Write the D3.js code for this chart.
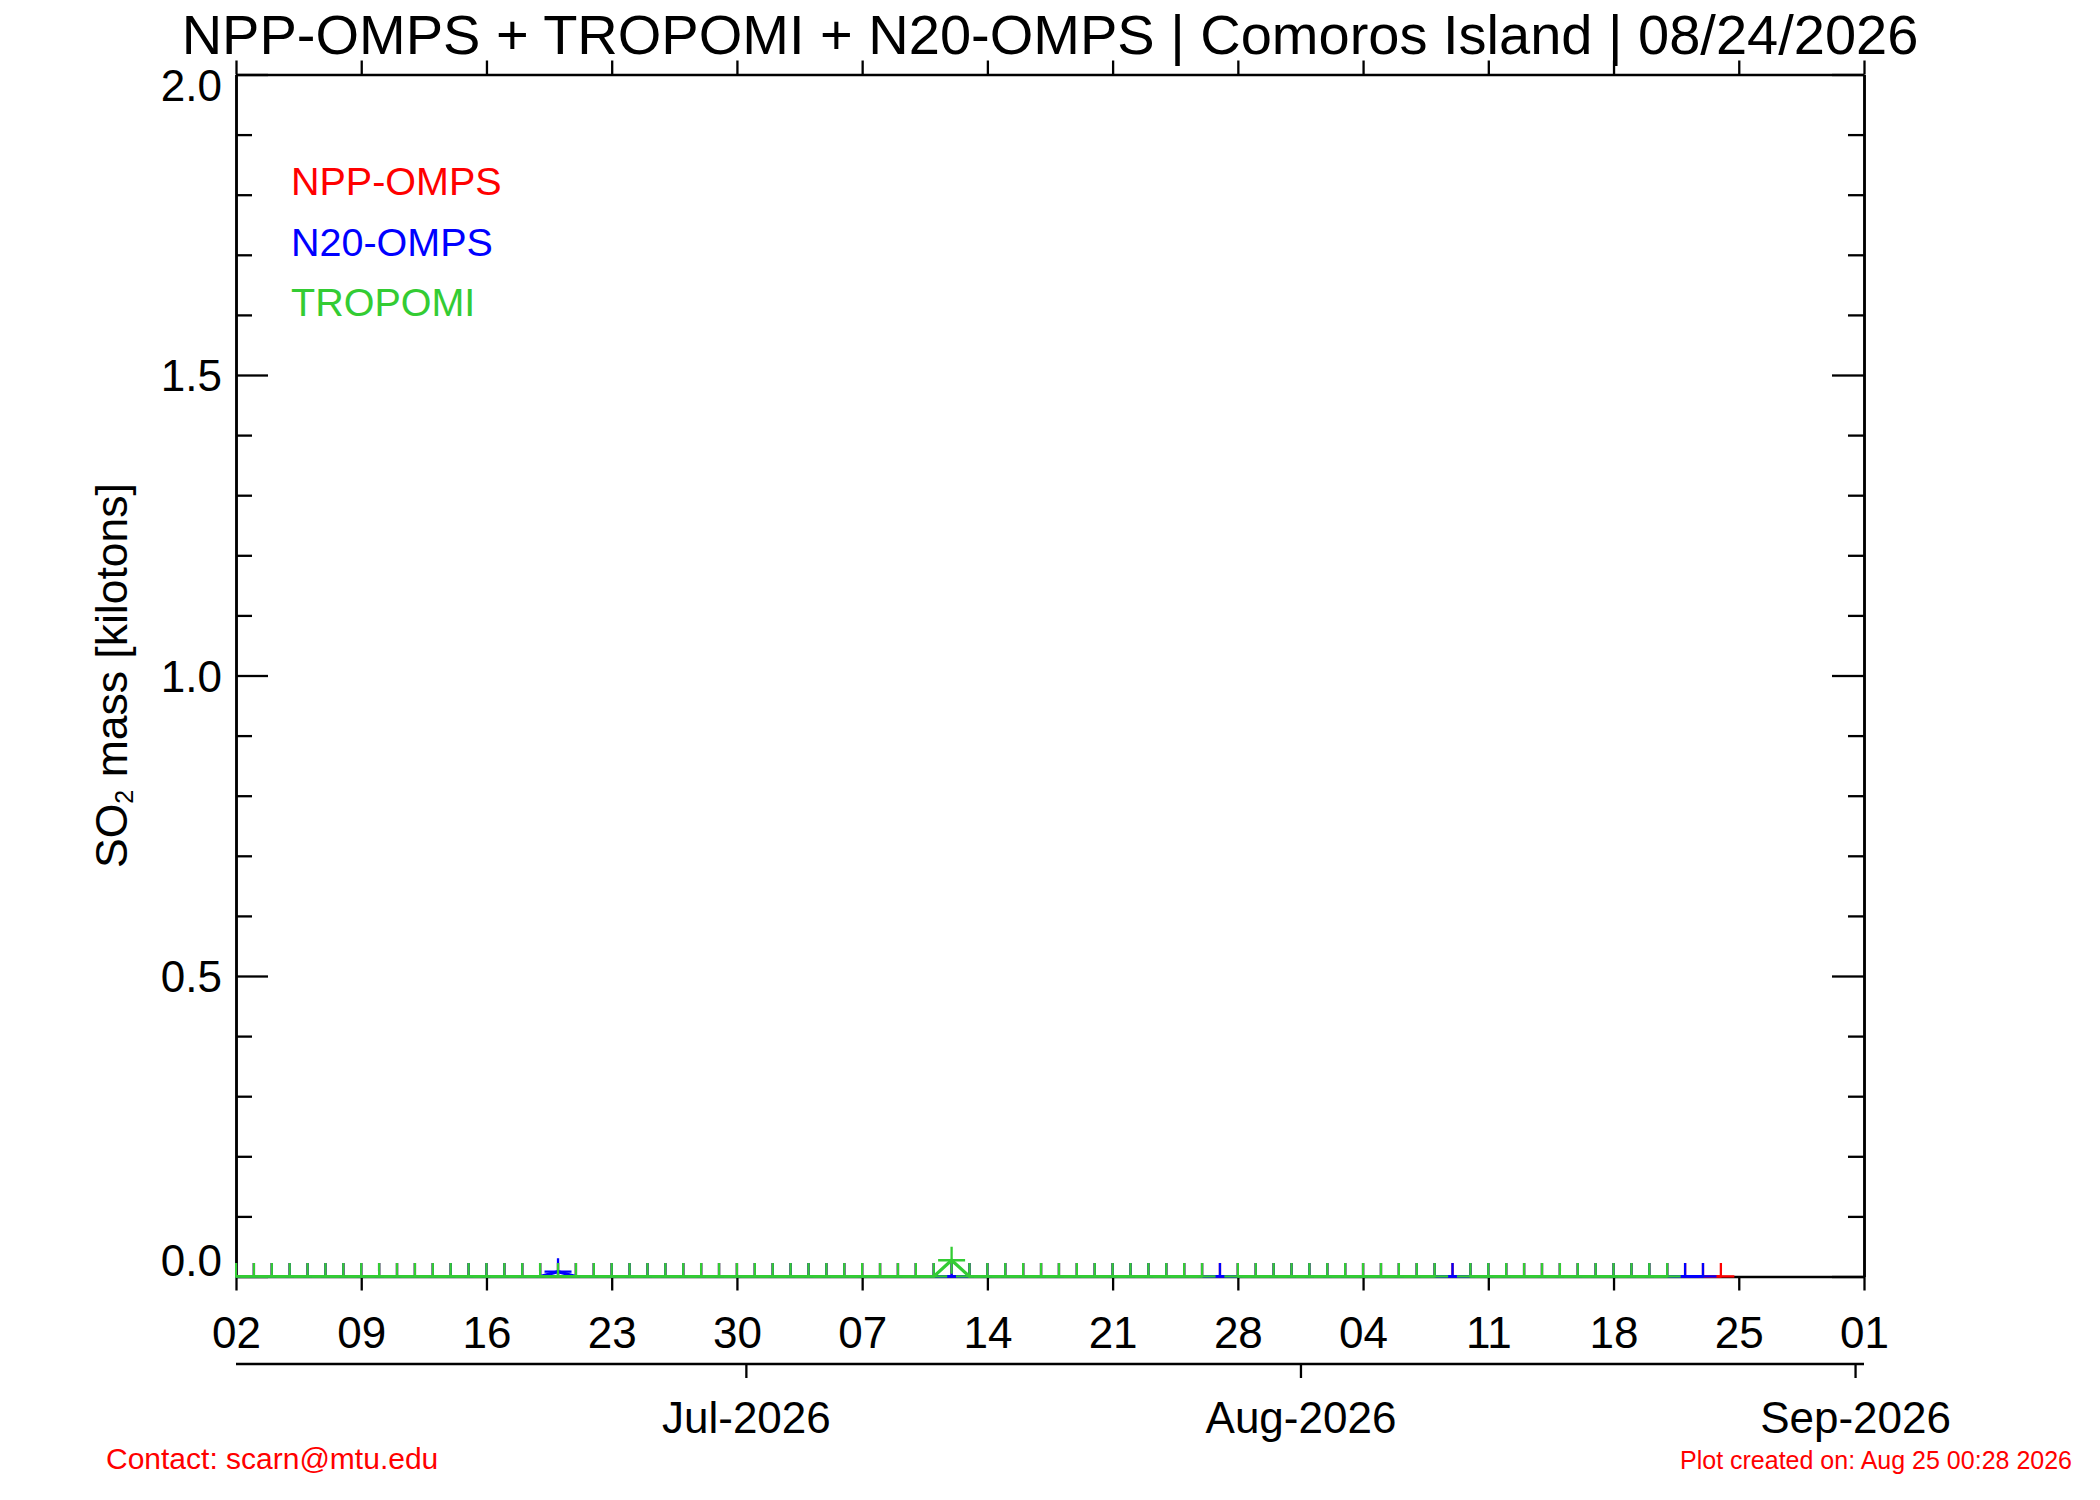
<!DOCTYPE html>
<html>
<head>
<meta charset="utf-8">
<script src="https://cdn.jsdelivr.net/npm/d3@7"></script>
<style>
  body { margin: 0; background: #fff; }
  svg text { font-family: "Liberation Sans", Arial, Helvetica, sans-serif; }
</style>
</head>
<body>
<svg id="chart" width="2100" height="1500"></svg>
<script>
// daily values, first day 2026-06-02, kilotons of SO2 (null = no overpass)
var nppStart = "2026-06-02";
var nppValues = [
  0, 0, 0, 0, 0, 0, 0, 0, 0, 0, 0, 0, 0, 0, 0, 0, 0, 0, 0, 0, 0, 0, 0, 0, 0, 0, 0, 0, 0, 0,
  0, 0, 0, 0, 0, 0, 0, 0, 0, 0, 0, 0, 0, 0, 0, 0, 0, 0, 0, 0, 0, 0, 0, 0, 0, 0, 0, 0, 0, 0,
  0, 0, 0, 0, 0, 0, 0, 0, 0, 0, 0, 0, 0, 0, 0, 0, 0, 0, 0, 0, 0, 0, 0, 0
];
var n20Start = "2026-06-02";
var n20Values = [
  0, 0, 0, 0, 0, 0, 0, 0, 0, 0, 0, 0, 0, 0, 0, 0, 0, 0, 0.008, 0, 0, 0, 0, 0, 0, 0, 0, 0, 0, 0,
  0, 0, 0, 0, 0, 0, 0, 0, 0, 0, 0, 0, 0, 0, 0, 0, 0, 0, 0, 0, 0, 0, 0, 0, 0, 0, 0, 0, 0, 0,
  0, 0, 0, 0, 0, 0, 0, 0, 0, 0, 0, 0, 0, 0, 0, 0, 0, 0, 0, 0, 0, 0, 0
];
var tropomiStart = "2026-06-02";
var tropomiValues = [
  0, 0, 0, 0, 0, 0, 0, 0, 0, 0, 0, 0, 0, 0, 0, 0, 0, 0, 0, 0, 0, 0, 0, 0, 0, 0, 0, 0, 0, 0,
  0, 0, 0, 0, 0, 0, 0, 0, 0, 0, 0.027, 0, 0, 0, 0, 0, 0, 0, 0, 0, 0, 0, 0, 0, 0, null, 0, 0, 0, 0,
  0, 0, 0, 0, 0, 0, 0, 0, null, 0, 0, 0, 0, 0, 0, 0, 0, 0, 0, 0, 0
];

var seriesNames = ["NPP-OMPS", "N20-OMPS", "TROPOMI"];
var seriesColors = ["#ff0000", "#0000ff", "#33cc33"];

var xDomain = ["2026-06-02", "2026-09-01"];
var dayTicks = ["2026-06-02", "2026-06-09", "2026-06-16", "2026-06-23", "2026-06-30",
                "2026-07-07", "2026-07-14", "2026-07-21", "2026-07-28", "2026-08-04",
                "2026-08-11", "2026-08-18", "2026-08-25", "2026-09-01"];
var monthTicks = ["2026-07-01", "2026-08-01", "2026-09-01"];
var monthLabels = ["Jul-2026", "Aug-2026", "Sep-2026"];
var yMajorTicks = [0, 0.5, 1.0, 1.5, 2.0];
var yMinorTicks = [0.1, 0.2, 0.3, 0.4, 0.6, 0.7, 0.8, 0.9, 1.1, 1.2, 1.3, 1.4, 1.6, 1.7, 1.8, 1.9];

var title = "NPP-OMPS + TROPOMI + N20-OMPS | Comoros Island | 08/24/2026";
var contact = "Contact: scarn@mtu.edu";
var created = "Plot created on: Aug 25 00:28 2026";

var parse = d3.utcParse("%Y-%m-%d");
var plotL = 236, plotR = 1864, plotT = 74.5, plotB = 1276.5;

var x = d3.scaleUtc().domain(xDomain.map(parse)).range([plotL, plotR]);
// month axis below sits half a day to the left
var xMonth = d3.scaleUtc()
    .domain(xDomain.map(function(d) { return d3.utcHour.offset(parse(d), 12); }))
    .range([plotL, plotR]);
var y = d3.scaleLinear().domain([0, 2]).range([plotB, plotT]);

var svg = d3.select("#chart");
svg.append("rect").attr("width", 2100).attr("height", 1500).attr("fill", "#fff");

function styleAxis(g, w) {
    g.selectAll(".domain").attr("stroke", "#000").attr("stroke-width", w);
    g.selectAll(".tick line").attr("stroke", "#000").attr("stroke-width", 2.3);
    g.selectAll(".tick text").attr("fill", "#000").attr("font-family", "Liberation Sans, Arial, sans-serif");
}

// bottom day axis
var gx = svg.append("g").attr("transform", "translate(0," + plotB + ")")
    .call(d3.axisBottom(x).tickValues(dayTicks.map(parse))
        .tickFormat(d3.utcFormat("%d")).tickSizeInner(14).tickSizeOuter(0).tickPadding(26));
styleAxis(gx, 2.5);
gx.selectAll(".tick text").attr("font-size", 44);

// top axis
var gt = svg.append("g").attr("transform", "translate(0," + plotT + ")")
    .call(d3.axisTop(x).tickValues(dayTicks.map(parse)).tickFormat("").tickSizeInner(14).tickSizeOuter(0));
styleAxis(gt, 2.5);

// left axis
var gl = svg.append("g").attr("transform", "translate(" + plotL + ",0)")
    .call(d3.axisLeft(y).tickValues(yMajorTicks).tickFormat(d3.format(".1f"))
        .tickSizeInner(-32).tickSizeOuter(0).tickPadding(14));
styleAxis(gl, 2.5);
gl.selectAll(".tick text").attr("font-size", 44).attr("dy", function(d) {
    if (d === 0) return "-0.02em";
    if (d === 2) return "0.6em";
    return "0.36em";
});
var glm = svg.append("g").attr("transform", "translate(" + plotL + ",0)")
    .call(d3.axisLeft(y).tickValues(yMinorTicks).tickFormat("").tickSizeInner(-16).tickSizeOuter(0));
styleAxis(glm, 2.5);

// right axis
var gr = svg.append("g").attr("transform", "translate(" + plotR + ",0)")
    .call(d3.axisRight(y).tickValues(yMajorTicks).tickFormat("").tickSizeInner(-32).tickSizeOuter(0));
styleAxis(gr, 2.5);
var grm = svg.append("g").attr("transform", "translate(" + plotR + ",0)")
    .call(d3.axisRight(y).tickValues(yMinorTicks).tickFormat("").tickSizeInner(-16).tickSizeOuter(0));
styleAxis(grm, 2.5);

// month axis
var gm = svg.append("g").attr("transform", "translate(0,1364)")
    .call(d3.axisBottom(xMonth).tickValues(monthTicks.map(parse))
        .tickFormat(function(d, i) { return monthLabels[i]; })
        .tickSizeInner(14).tickSizeOuter(0).tickPadding(24));
styleAxis(gm, 2.5);
gm.select(".domain").attr("d", "M" + plotL + ",0H" + plotR);
gm.selectAll(".tick text").attr("font-size", 44);

// data
svg.append("clipPath").attr("id", "plotclip")
    .append("rect").attr("x", plotL - 1).attr("y", plotT)
    .attr("width", plotR - plotL + 2).attr("height", plotB - plotT + 1.2);

var plot = svg.append("g").attr("clip-path", "url(#plotclip)");

function toPoints(start, values) {
    var t0 = parse(start);
    return values.map(function(v, i) { return { date: d3.utcDay.offset(t0, i), v: v }; });
}

var allSeries = [toPoints(nppStart, nppValues), toPoints(n20Start, n20Values), toPoints(tropomiStart, tropomiValues)];

var line = d3.line()
    .defined(function(d) { return d.v !== null; })
    .x(function(d) { return x(d.date); })
    .y(function(d) { return y(d.v); });

var arm = 13.5;
allSeries.forEach(function(pts, k) {
    var g = plot.append("g");
    g.append("path").datum(pts)
        .attr("d", line)
        .attr("fill", "none")
        .attr("stroke", seriesColors[k])
        .attr("stroke-width", 3.2);
    g.selectAll("path.plus")
        .data(pts.filter(function(d) { return d.v !== null; }))
        .join("path")
        .attr("class", "plus")
        .attr("d", function(d) {
            var px = x(d.date), py = y(d.v);
            return "M" + (px - arm) + "," + py + "H" + (px + arm) + "M" + px + "," + (py - arm) + "V" + (py + arm);
        })
        .attr("fill", "none")
        .attr("stroke", seriesColors[k])
        .attr("stroke-width", 2.3);
});

// legend
svg.append("g").selectAll("text")
    .data(seriesNames)
    .join("text")
    .attr("x", 291)
    .attr("y", function(d, i) { return 195 + i * 60.5; })
    .attr("font-size", 39.5)
    .attr("fill", function(d, i) { return seriesColors[i]; })
    .text(function(d) { return d; });

// title
svg.append("text")
    .attr("x", (plotL + plotR) / 2).attr("y", 54)
    .attr("text-anchor", "middle")
    .attr("font-size", 56)
    .text(title);

// y label
var yl = svg.append("text")
    .attr("transform", "translate(127," + ((plotT + plotB) / 2) + ") rotate(-90)")
    .attr("text-anchor", "middle")
    .attr("font-size", 44.5);
yl.append("tspan").text("SO");
yl.append("tspan").attr("font-size", 25).attr("dy", 6).text("2");
yl.append("tspan").attr("dy", -6).text(" mass [kilotons]");

// footer
svg.append("text").attr("x", 106).attr("y", 1469)
    .attr("font-size", 30).attr("fill", "#ff0000").text(contact);
svg.append("text").attr("x", 2072).attr("y", 1469)
    .attr("text-anchor", "end")
    .attr("font-size", 25).attr("fill", "#ff0000").text(created);
</script>
</body>
</html>
